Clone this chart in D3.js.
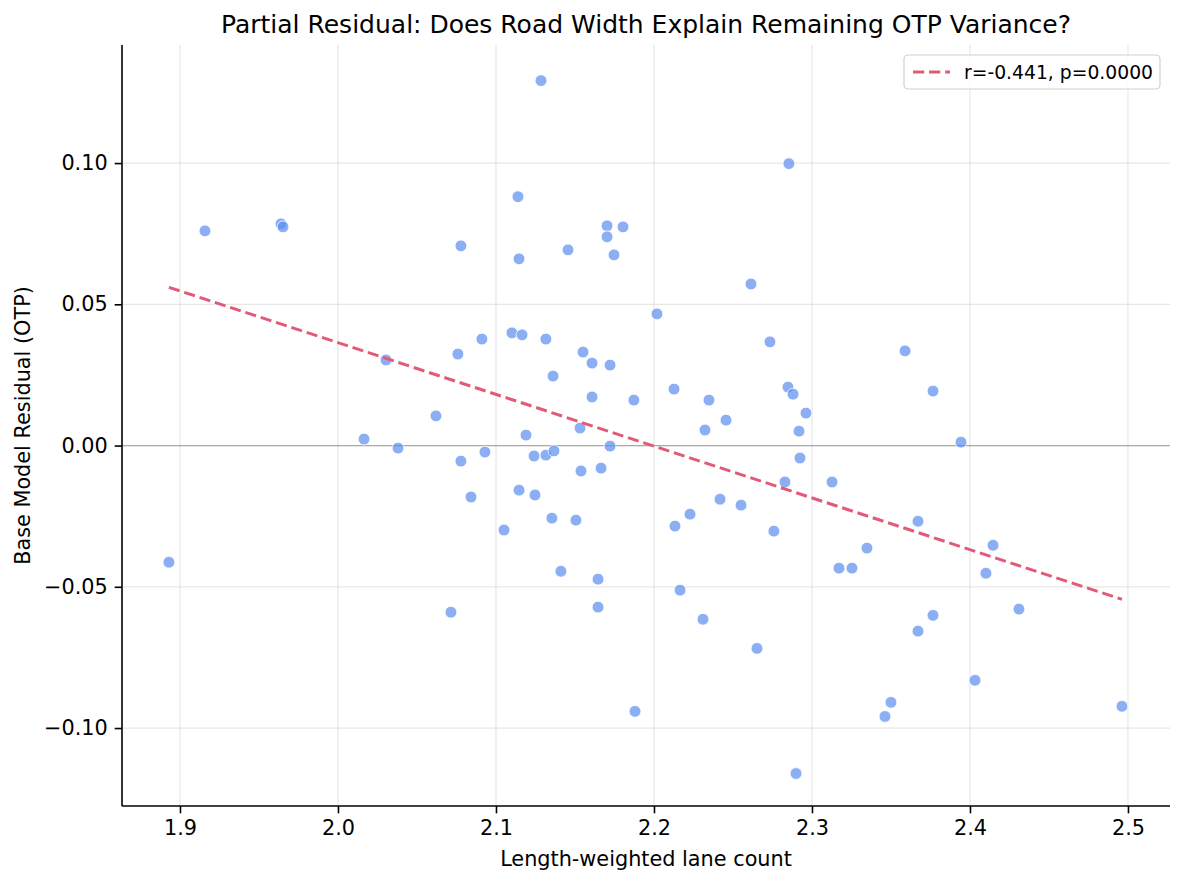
<!DOCTYPE html>
<html><head><meta charset="utf-8">
<script src="https://cdn.jsdelivr.net/npm/d3@7"></script>
<style>body{margin:0;background:#fff;} text{font-family:"DejaVu Sans",sans-serif;}</style>
</head><body><svg id="c" width="1185" height="885"></svg>
<script>
const laneCount = [1.8930,1.9158,1.9639,1.9652,2.0778,2.0304,2.0759,2.0620,2.0165,2.0380,2.0778,2.0842,2.0715,2.0911,2.0930,2.1051,2.1101,2.1165,2.1139,2.1146,2.1285,2.1190,2.1241,2.1146,2.1247,2.1316,2.1316,2.1367,2.1361,2.1354,2.1411,2.1456,2.1506,2.1532,2.1551,2.1538,2.1608,2.1608,2.1646,2.1646,2.1665,2.1703,2.1703,2.1722,2.1722,2.1747,2.1804,2.1873,2.1880,2.2019,2.2127,2.2133,2.2165,2.2228,2.2310,2.2323,2.2348,2.2418,2.2456,2.2551,2.2614,2.2652,2.2734,2.2759,2.2829,2.2854,2.2848,2.2880,2.2899,2.2918,2.2924,2.2962,2.3127,2.3171,2.3253,2.3348,2.3462,2.3500,2.3589,2.3671,2.3671,2.3766,2.3766,2.3943,2.4032,2.4101,2.4146,2.4310,2.4962];
const residual = [-0.0413,0.0760,0.0785,0.0774,0.0707,0.0303,0.0324,0.0105,0.0023,-0.0009,-0.0055,-0.0182,-0.0590,0.0377,-0.0023,-0.0299,0.0399,0.0392,0.0881,0.0661,0.1292,0.0037,-0.0037,-0.0158,-0.0175,0.0377,-0.0034,-0.0019,0.0246,-0.0257,-0.0445,0.0693,-0.0264,0.0062,0.0331,-0.0090,0.0292,0.0172,-0.0473,-0.0572,-0.0080,0.0778,0.0739,0.0285,-0.0002,0.0675,0.0774,0.0161,-0.0941,0.0466,0.0200,-0.0285,-0.0512,-0.0243,-0.0615,0.0055,0.0161,-0.0190,0.0090,-0.0211,0.0572,-0.0718,0.0367,-0.0303,-0.0129,0.0998,0.0207,0.0182,-0.1161,0.0051,-0.0044,0.0115,-0.0129,-0.0434,-0.0434,-0.0363,-0.0959,-0.0909,0.0335,-0.0268,-0.0657,0.0193,-0.0601,0.0012,-0.0831,-0.0452,-0.0353,-0.0579,-0.0923];
const xTicks = [1.9,2.0,2.1,2.2,2.3,2.4,2.5];
const yTicks = [-0.10,-0.05,0.00,0.05,0.10];
const legendLabel = "r=-0.441, p=0.0000";
const titleText = "Partial Residual: Does Road Width Explain Remaining OTP Variance?";
const xLabel = "Length-weighted lane count";
const yLabel = "Base Model Residual (OTP)";

const L=122,R=1170,T=45,B=806;
const svg=d3.select("#c");
const x=d3.scaleLinear().domain([1.8633,2.5266]).range([L,R]);
const y=d3.scaleLinear().domain([-0.1276,0.1418]).range([B,T]);

// grid
const g=svg.append("g");
g.selectAll(".gx").data(xTicks).join("line").attr("x1",d=>x(d)).attr("x2",d=>x(d)).attr("y1",T).attr("y2",B).attr("stroke","#b0b0b0").attr("stroke-opacity",0.3).attr("stroke-width",1.2);
g.selectAll(".gy").data(yTicks).join("line").attr("y1",d=>y(d)).attr("y2",d=>y(d)).attr("x1",L).attr("x2",R).attr("stroke","#b0b0b0").attr("stroke-opacity",0.3).attr("stroke-width",1.2);
// zero line
svg.append("line").attr("x1",L).attr("x2",R).attr("y1",y(0)).attr("y2",y(0)).attr("stroke","#808080").attr("stroke-opacity",0.6).attr("stroke-width",1.2);

// points
const pts=laneCount.map((v,i)=>({x:v,y:residual[i]}));
svg.append("g").selectAll("circle").data(pts).join("circle")
 .attr("cx",d=>x(d.x)).attr("cy",d=>y(d.y)).attr("r",5.9)
 .attr("fill","#5b8def").attr("fill-opacity",0.7).attr("stroke","#fff").attr("stroke-width",0.8);

// regression
const mx=d3.mean(laneCount), my=d3.mean(residual);
let sxy=0,sxx=0; pts.forEach(p=>{sxy+=(p.x-mx)*(p.y-my); sxx+=(p.x-mx)**2;});
const slope=sxy/sxx, icpt=my-slope*mx;
const xe=d3.extent(laneCount);
svg.append("path").attr("d",d3.line()(xe.map(v=>[x(v),y(icpt+slope*v)])))
 .attr("fill","none").attr("stroke","#e35a78").attr("stroke-width",3).attr("stroke-dasharray","11.2,4.9");

// axes
const xa=svg.append("g").attr("transform",`translate(0,${B})`).call(d3.axisBottom(x).tickValues(xTicks).tickFormat(d3.format(".1f")).tickSize(7.3).tickPadding(7));
const ya=svg.append("g").attr("transform",`translate(${L},0)`).call(d3.axisLeft(y).tickValues(yTicks).tickFormat(d=>d3.format(".2f")(d).replace("-","−")).tickSize(7.3).tickPadding(7));
[xa,ya].forEach(a=>{a.select(".domain").attr("stroke","#000").attr("stroke-width",1.6);
 a.selectAll(".tick line").attr("stroke","#000").attr("stroke-width",1.6);
 a.selectAll(".tick text").attr("font-size",20.8).attr("fill","#000").attr("font-family","DejaVu Sans");});
xa.select(".domain").attr("d",`M${L},0H${R}`);
ya.select(".domain").attr("d",`M0,${T}V${B}`);

// labels
svg.append("text").attr("x",(L+R)/2).attr("y",33).attr("text-anchor","middle").attr("font-size",25).text(titleText);
svg.append("text").attr("x",(L+R)/2).attr("y",866).attr("text-anchor","middle").attr("font-size",20.8).text(xLabel);
svg.append("text").attr("transform",`translate(30,${(T+B)/2}) rotate(-90)`).attr("text-anchor","middle").attr("font-size",20.8).text(yLabel);

// legend
const lg=svg.append("g");
lg.append("rect").attr("x",904).attr("y",55).attr("width",256).attr("height",34).attr("rx",4).attr("fill","#fff").attr("fill-opacity",0.8).attr("stroke","#d0d0d0").attr("stroke-width",1.2);
lg.append("line").attr("x1",913).attr("x2",950).attr("y1",72).attr("y2",72).attr("stroke","#e35a78").attr("stroke-width",3).attr("stroke-dasharray","11.2,4.9");
lg.append("text").attr("x",964).attr("y",78.5).attr("font-size",18.75).text(legendLabel);
</script></body></html>
